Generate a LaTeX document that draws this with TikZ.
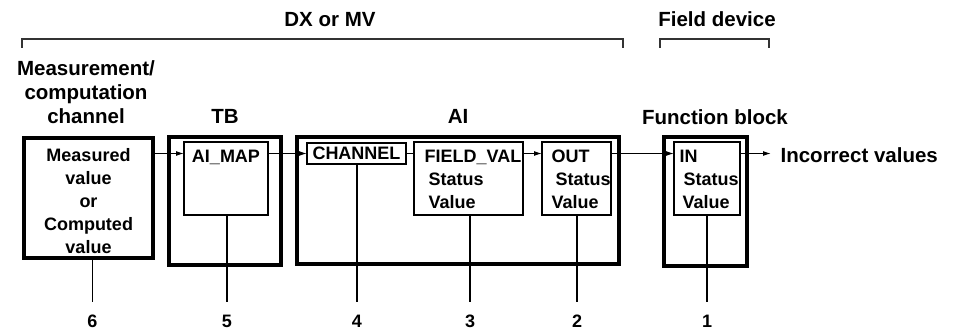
\documentclass[tikz,border=0pt]{standalone}
\usepackage{fontspec}
\setmainfont{Liberation Sans}
\usetikzlibrary{arrows.meta}
\newlength{\lw}
\setlength{\lw}{1.2pt}
\newlength{\bw}
\setlength{\bw}{3.2pt}
\newcommand{\headfont}{\fontsize{20.5}{24}\selectfont\bfseries}
\newcommand{\boxfont}{\fontsize{18}{23}\selectfont\bfseries}
\tikzstyle{every picture}+=[>={Latex[length=8pt,width=5pt]}]
\tikzstyle{every picture}+=[line width=\lw]
\tikzstyle{every picture}+=[join=miter]
\tikzstyle{outer}=[draw,line width=\bw,inner sep=0pt,outer sep=0pt,anchor=north west]
\tikzstyle{inner}=[draw,line width=\lw,inner sep=0pt,outer sep=0pt,anchor=north west]
\tikzstyle{head}=[font=\headfont,inner sep=0pt,anchor=base,align=center]
\tikzstyle{txt}=[font=\boxfont,inner sep=0pt,anchor=base west]
\tikzstyle{num}=[font=\boxfont,inner sep=0pt,anchor=base]
\tikzstyle{lead}=[shorten >=12pt]
\tikzstyle{bracket}=[line width=1.3pt,black!80]
\begin{document}
\begin{tikzpicture}[x=1pt,y=-1pt]
\useasboundingbox (0,0) rectangle (953,329);

% groups on top
\draw[bracket] (22,48) -- (22,39) -- (623,39) -- (623,48);
\draw[bracket] (660,48) -- (660,39) -- (769,39) -- (769,48);
\node[head] (dxmv) at (330,27) {DX or MV};
\node[head] (field) at (717,27) {Field device};

% block titles
\node[head] (chlbl) at (86,123) {Measurement/\\computation\\channel};
\node[head] (tblbl) at (225,123) {TB};
\node[head] (ailbl) at (458,123) {AI};
\node[head] (fblbl) at (715,124) {Function block};

% measurement/computation channel
\node[outer,minimum width=129pt,minimum height=120pt] (mv) at (24,138) {};
\node[font=\boxfont,align=center,inner sep=0pt,anchor=base] (mvtxt) at (88.5,253) {Measured\\value\\or\\Computed\\value};

% TB
\node[outer,minimum width=112pt,minimum height=128pt] (tb) at (169,137) {};
\node[inner,minimum width=84pt,minimum height=73pt] (aimap) at (184,142) {};
\node[txt,anchor=base] (aimaptxt) at (226,162) {AI\_MAP};

% AI
\node[outer,minimum width=322pt,minimum height=127pt] (ai) at (297,137) {};
\node[inner,minimum width=99pt,minimum height=21pt,font=\boxfont] (chan) at (307,143) {CHANNEL};
\node[inner,minimum width=109pt,minimum height=73pt] (fval) at (414,142) {};
\node[txt] (fvaltxt) at (424,162) {FIELD\_VAL};
\node[txt] (fvalst) at (428,185) {Status};
\node[txt] (fvalv) at (428,208) {Value};
\node[inner,minimum width=69pt,minimum height=73pt] (out) at (542,142) {};
\node[txt] (outtxt) at (551,162) {OUT};
\node[txt] (outst) at (555,185) {Status};
\node[txt] (outv) at (551,208) {Value};

% function block
\node[outer,minimum width=83pt,minimum height=129pt] (fb) at (664,137) {};
\node[inner,minimum width=66pt,minimum height=73pt] (in) at (674,142) {};
\node[txt] (intxt) at (679,162) {IN};
\node[txt] (inst) at (683,185) {Status};
\node[txt] (inv) at (682,208) {Value};
\node[head,anchor=base west] (inc) at (780,162) {Incorrect values};

% data flow
\draw[->] (mv.east |- chan.west) -- (aimap.west |- chan.west);
\draw[->] (aimap.east |- chan.west) -- (chan.west);
\draw (chan.east) -- (fval.west |- chan.east);
\draw[->] (fval.east |- chan.east) -- (out.west |- chan.east);
\draw[->] (out.east |- chan.east) -- (in.west |- chan.east);
\draw[->,shorten >=9pt] (in.east |- chan.east) -- (inc.west |- chan.east);

% numbered leaders
\node[num] (n6) at (92.5,327) {6};
\node[num] (n5) at (227,327) {5};
\node[num] (n4) at (357,327) {4};
\node[num] (n3) at (470,327) {3};
\node[num] (n2) at (577,327) {2};
\node[num] (n1) at (707,327) {1};
\draw[lead] (n6 |- mv.south) -- (n6.north);
\draw[lead] (n5 |- aimap.south) -- (n5.north);
\draw[lead] (n4 |- chan.south) -- (n4.north);
\draw[lead] (n3 |- fval.south) -- (n3.north);
\draw[lead] (n2 |- out.south) -- (n2.north);
\draw[lead] (n1 |- in.south) -- (n1.north);
\end{tikzpicture}
\end{document}
